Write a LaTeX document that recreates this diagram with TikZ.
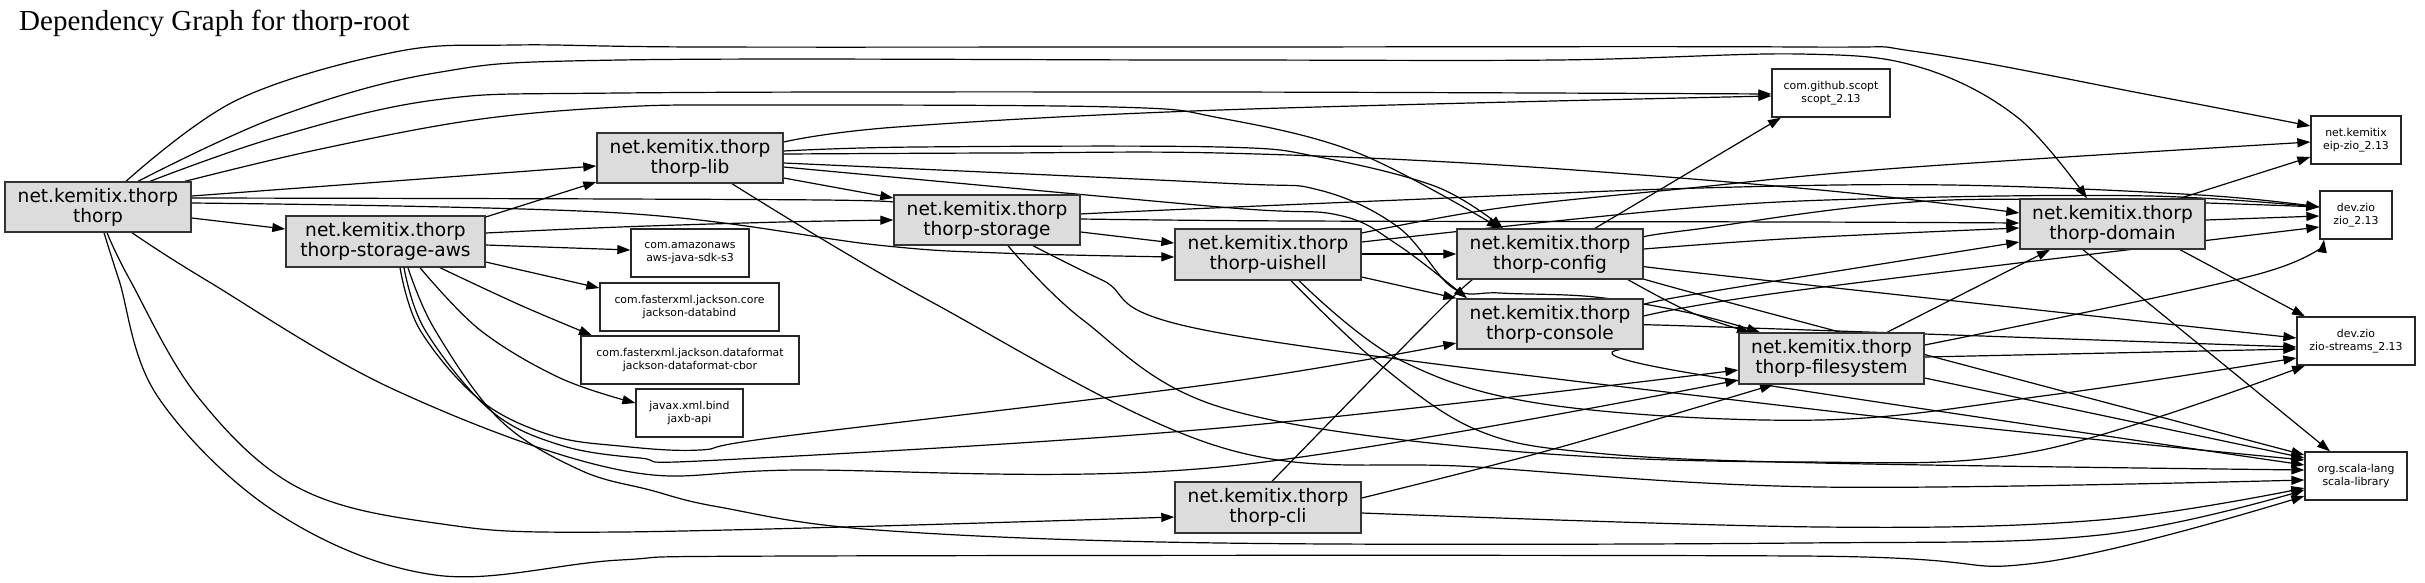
\documentclass[tikz,border=0pt]{standalone}
\usepackage{fontspec}
\setmainfont{DejaVu Sans}
\newfontfamily\titlefont{Liberation Serif}
\usetikzlibrary{arrows.meta}
\definecolor{gbox}{HTML}{DCDCDC}
\pgfdeclarelayer{bg}
\pgfsetlayers{bg,main}
\begin{document}
\begin{tikzpicture}[x=1pt,y=-1pt,
  mod/.style={draw=black!80, fill=gbox, line width=1.4pt, inner sep=0pt, minimum height=50pt, align=center, font=\fontsize{18.6}{20}\selectfont},
  ext/.style={draw=black!85, fill=white, line width=1.3pt, inner sep=0pt, minimum height=48pt, align=center, font=\fontsize{10.9}{12.5}\selectfont},
  dep/.style={line width=1.2pt, -{Triangle[length=13pt,width=9pt]}},
  sm/.style={smooth, tension=0.6}
]
\useasboundingbox (0,0) rectangle (2425,582);
\node[anchor=base west, font=\titlefont\fontsize{29}{30}\selectfont, inner sep=0pt] (title) at (19,30) {Dependency Graph for thorp-root};

% modules
\node[mod, minimum width=186pt] (A) at (98,207) {net.kemitix.thorp\\thorp};
\node[mod, minimum width=199pt, minimum height=51pt] (B) at (385.5,241.5) {net.kemitix.thorp\\thorp-storage-aws};
\node[mod, minimum width=186pt] (C) at (690,158) {net.kemitix.thorp\\thorp-lib};
\node[mod, minimum width=186pt] (D) at (987,220) {net.kemitix.thorp\\thorp-storage};
\node[mod, minimum width=186pt, minimum height=51pt] (E) at (1268,254.5) {net.kemitix.thorp\\thorp-uishell};
\node[mod, minimum width=186pt, minimum height=51pt] (F) at (1268,507.5) {net.kemitix.thorp\\thorp-cli};
\node[mod, minimum width=186pt] (G) at (1550,254) {net.kemitix.thorp\\thorp-config};
\node[mod, minimum width=186pt] (H) at (1550,324) {net.kemitix.thorp\\thorp-console};
\node[mod, minimum width=185pt, minimum height=51pt] (I) at (1831.5,358.5) {net.kemitix.thorp\\thorp-filesystem};
\node[mod, minimum width=185pt] (J) at (2112.5,224) {net.kemitix.thorp\\thorp-domain};
% libraries
\node[ext, minimum width=118pt] (K) at (1831,93) {com.github.scopt\\scopt\_2.13};
\node[ext, minimum width=90pt] (L) at (2356,140) {net.kemitix\\eip-zio\_2.13};
\node[ext, minimum width=72pt] (M) at (2356,215) {dev.zio\\zio\_2.13};
\node[ext, minimum width=118pt] (N) at (2356,341) {dev.zio\\zio-streams\_2.13};
\node[ext, minimum width=102pt] (O) at (2356,476) {org.scala-lang\\scala-library};
\node[ext, minimum width=118pt] (P) at (690,253) {com.amazonaws\\aws-java-sdk-s3};
\node[ext, minimum width=179pt] (Q) at (689.5,307) {com.fasterxml.jackson.core\\jackson-databind};
\node[ext, minimum width=218pt] (R) at (690,360) {com.fasterxml.jackson.dataformat\\jackson-dataformat-cbor};
\node[ext, minimum width=107pt] (S) at (689.5,413) {javax.xml.bind\\jaxb-api};

\begin{pgfonlayer}{bg}
% thorp
\draw[dep] plot[sm] coordinates {(A.north -| 126,0) (237,100) (395,52) (514,45) (700,47) (1200,47) (1800,47) (1919,52) (2150,95) (L.west |- 0,126)};
\draw[dep] plot[sm] coordinates {(A.north -| 138,0) (277,117) (435,73) (620,60) (1200,60) (1556,60) (1800,54) (1919,67) (2017,117) (J.north -| 2087,0)};
\draw[dep] plot[sm] coordinates {(A.north -| 150,0) (277,137) (435,100) (620,93) (1200,92) (K.west |- 0,94)};
\draw[dep] plot[sm] coordinates {(A.north -| 185,0) (316,150) (474,120) (620,107) (758,105) (1114,107) (1220,118) (1358,153) (G.north -| 1500,0)};
\draw[dep] (A.east |- 0,196) -- (C.west |- 0,166);
\draw[dep] plot[sm] coordinates {(A.east |- 0,198) (620,199) (877,201) (D.west |- 0,208)};
\draw[dep] plot[sm] coordinates {(A.east |- 0,203) (620,213) (877,245) (1000,253) (E.west |- 0,257)};
\draw[dep] (A.east |- 0,218) -- (B.west |- 0,229);
\draw[dep] plot[sm] coordinates {(A.south -| 107,0) (130,280) (198,397) (297,487) (435,523) (620,532) (F.west |- 0,517)};
\draw[dep] plot[sm] coordinates {(A.south -| 104,0) (119,280) (158,397) (277,513) (435,575) (620,560) (800,556) (1800,556) (2037,563) (O.west |- 0,496)};
\draw[dep] plot[sm] coordinates {(A.south -| 132,0) (206,280) (395,390) (620,470) (800,470) (1220,467) (I.west |- 0,380)};

% storage-aws
\draw[dep] (B.east |- 0,217) -- (C.west |- 0,182);
\draw[dep] plot[sm] coordinates {(B.east |- 0,233) (620,227) (782,222) (D.west |- 0,220)};
\draw[dep] (B.east |- 0,245) -- (P.west |- 0,250);
\draw[dep] (B.east |- 0,262) -- (Q.west |- 0,288);
\draw[dep] plot[sm] coordinates {(B.south -| 440,0) (520,305) (R.north -| 592,0)};
\draw[dep] plot[sm] coordinates {(B.south -| 420,0) (480,330) (560,378) (S.west |- 0,403)};
\draw[dep] plot[sm] coordinates {(B.south -| 400,0) (420,330) (480,400) (550,435) (620,446) (700,450) (778,437) (1220,383) (H.west |- 0,343)};
\draw[dep] plot[sm] coordinates {(B.south -| 404,0) (425,330) (490,410) (560,445) (640,458) (720,460) (1220,428) (I.west |- 0,370)};
\draw[dep] plot[sm] coordinates {(B.south -| 408,0) (435,330) (500,420) (580,470) (650,490) (719,507) (877,530) (1220,543) (1800,543) (2100,535) (O.west |- 0,490)};

% lib
\draw[dep] plot[sm] coordinates {(C.east |- 0,142) (897,127) (1220,110) (K.west |- 0,96)};
\draw[dep] plot[sm] coordinates {(C.east |- 0,151) (916,147) (1220,147) (1319,157) (1437,187) (G.north -| 1503,0)};
\draw[dep] plot[sm] coordinates {(C.east |- 0,154) (1000,153) (1220,153) (1500,165) (1820,190) (J.west |- 0,213)};
\draw[dep] plot[sm] coordinates {(C.east |- 0,163) (1220,183) (1319,190) (1398,227) (1453,288) (1500,293) (1595,297) (1690,313) (I.north -| 1760,0)};
\draw[dep] plot[sm] coordinates {(C.east |- 0,167) (1220,207) (1338,215) (1398,245) (H.north -| 1467,0)};
\draw[dep] (C.east |- 0,178) -- (D.west |- 0,198);
\draw[dep] plot[sm] coordinates {(C.south -| 732,0) (928,300) (1220,447) (1477,467) (1820,487) (O.west |- 0,480)};

% storage
\draw[dep] (D.east |- 0,232) -- (E.west |- 0,243);
\draw[dep] plot[sm] coordinates {(D.east |- 0,219) (1300,221) (1800,222) (J.west |- 0,223)};
\draw[dep] plot[sm] coordinates {(D.east |- 0,215) (1100,213) (1400,200) (1700,188) (1950,185) (2200,195) (M.west |- 0,207)};
\draw[dep] plot[sm] coordinates {(D.south -| 1033,0) (1102,280) (1220,333) (1820,410) (O.west |- 0,460)};
\draw[dep] plot[sm] coordinates {(D.south -| 1008,0) (1083,320) (1220,407) (1500,450) (1800,462) (2037,451) (N.south -| 2305,0)};

% uishell
\draw[dep] plot[sm] coordinates {(E.east |- 0,233) (1500,208) (1690,188) (1900,168) (L.west |- 0,142)};
\draw[dep] plot[sm] coordinates {(E.east |- 0,242) (1690,208) (1900,198) (2150,196) (M.west |- 0,207)};
\draw[dep] (E.east |- 0,254) -- (G.west |- 0,254);
\draw[dep] (E.east |- 0,277) -- (H.north west);
\draw[dep] plot[sm] coordinates {(E.south -| 1299,0) (1400,360) (1550,405) (1820,420) (2050,395) (N.west |- 0,358)};
\draw[dep] plot[sm] coordinates {(E.south -| 1291,0) (1378,363) (1477,430) (1595,453) (1820,463) (O.west |- 0,470)};

% cli
\draw[dep] plot[sm] coordinates {(F.north -| 1272,0) (1453,297) (G.south -| 1480,0)};
\draw[dep] plot[sm] coordinates {(F.east |- 0,498) (1550,450) (I.south -| 1773,0)};
\draw[dep] plot[sm] coordinates {(F.east |- 0,513) (1820,527) (2100,520) (O.west |- 0,488)};

% config
\draw[dep] (G.north -| 1595,0) -- (K.south -| 1781,0);
\draw[dep] plot[sm] coordinates {(G.east |- 0,237) (1690,230) (1950,200) (M.west |- 0,207)};
\draw[dep] plot[sm] coordinates {(G.east |- 0,249) (1800,238) (J.west |- 0,228)};
\draw[dep] plot[sm] coordinates {(G.east |- 0,265) (1690,272) (N.west |- 0,338)};
\draw[dep] plot[sm] coordinates {(G.east |- 0,276) (1690,292) (O.west |- 0,455)};
\draw[dep] plot[sm] coordinates {(G.south -| 1628,0) (1690,312) (I.north -| 1750,0)};

% console
\draw[dep] plot[sm] coordinates {(H.east |- 0,306) (1690,295) (J.west |- 0,242)};
\draw[dep] plot[sm] coordinates {(H.east |- 0,316) (1800,290) (M.west |- 0,227)};
\draw[dep] plot[sm] coordinates {(H.east |- 0,326) (1690,326) (N.west |- 0,347)};
\draw[dep] plot[sm] coordinates {(H.south -| 1620,0) (1690,373) (O.west |- 0,465)};

% filesystem
\draw[dep] (I.north -| 1887,0) -- (J.south -| 2050,0);
\draw[dep] plot[sm] coordinates {(I.east |- 0,345) (2255,275) (M.south -| 2324,0)};
\draw[dep] (I.east |- 0,357) -- (N.west |- 0,349);
\draw[dep] (I.east |- 0,378) -- (O.west |- 0,458);

% domain
\draw[dep] (J.north -| 2180,0) -- (L.west |- 0,157);
\draw[dep] (J.east |- 0,220) -- (M.west |- 0,216);
\draw[dep] (J.south -| 2180,0) -- (N.north -| 2305,0);
\draw[dep] (J.south -| 2083,0) -- (O.north -| 2330,0);
\end{pgfonlayer}
\end{tikzpicture}
\end{document}
